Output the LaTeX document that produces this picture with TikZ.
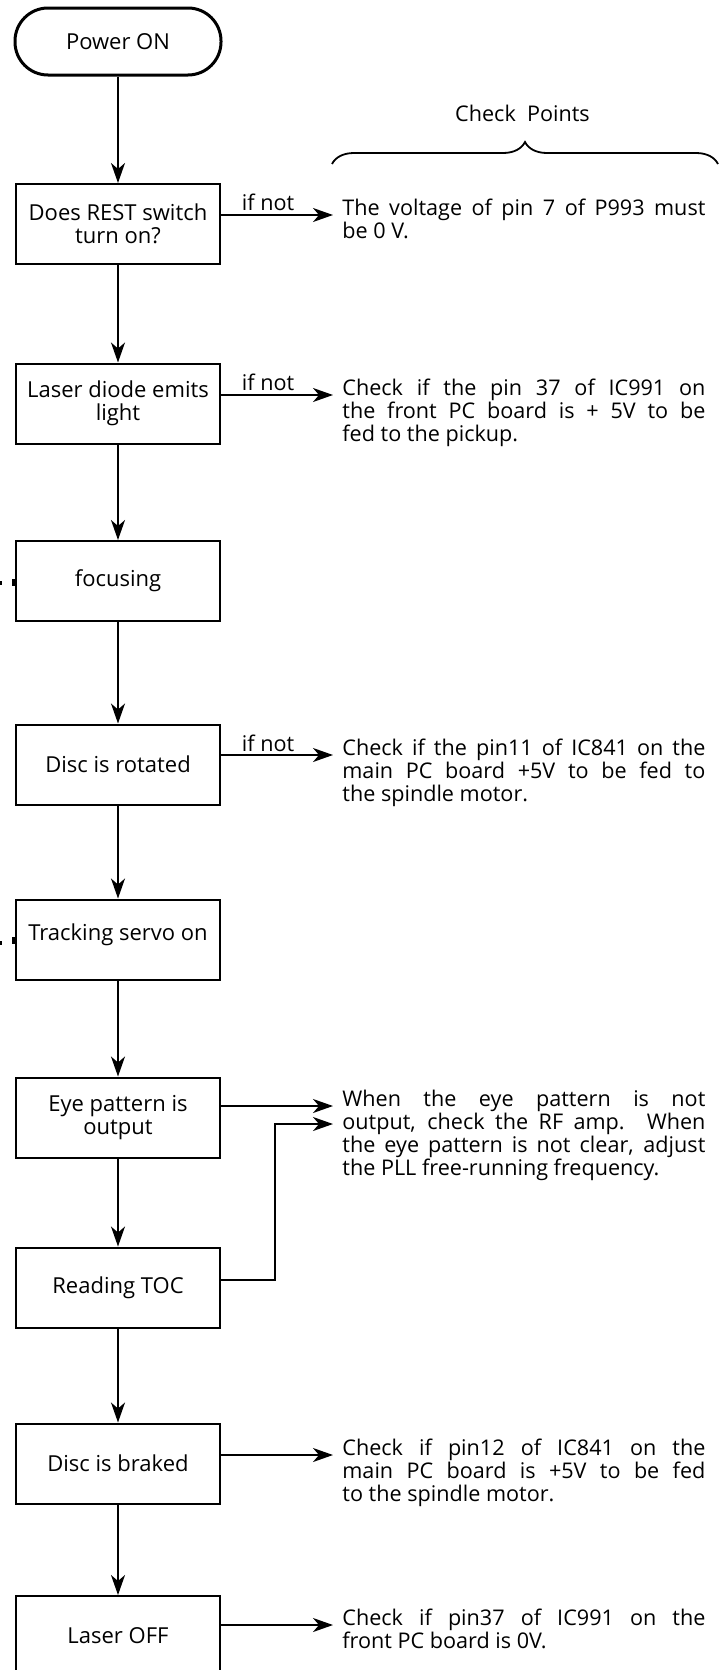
\documentclass[tikz,border=0pt]{standalone}
\usepackage{fontspec}
\setmainfont{Open Sans}
\usetikzlibrary{arrows.meta,decorations.pathreplacing,positioning}

\begin{document}
\begin{tikzpicture}[x=.5pt,y=-.5pt,font=\fontsize{10.8}{11.65}\selectfont,
  term/.style={draw,line width=1.5pt,rounded corners=16.5pt,minimum width=103pt,minimum height=33.5pt,font=\fontsize{11}{12}\selectfont},
  box/.style={draw,line width=1pt,minimum width=102pt,minimum height=40pt,align=center,inner sep=2pt,font=\fontsize{11}{11.5}\selectfont},
  note/.style={anchor=base west,text width=181.5pt,align=justify,inner xsep=4.5pt,inner ysep=0pt},
  arr/.style={line width=.8pt,-{Stealth[length=10pt,width=7pt,inset=3pt]}},
  ifnot/.style={above,pos=.42,inner sep=1.5pt}]
\useasboundingbox (0,0) rectangle (725,1670);
% flow
\node[term] (pwr) at (118,41.5) {Power ON};
\node[box] (rest) at (118,224) {Does REST switch\\turn on?};
\node[box] (laser) at (118,403.5) {Laser diode emits\\light};
\node[box] (focus) at (118,581) {focusing};
\node[box] (rot) at (118,764.5) {Disc is rotated};
\node[box] (track) at (118,939.5) {Tracking servo on\\[-4pt]};
\node[box] (eye) at (118,1117.5) {Eye pattern is\\output};
\node[box] (toc) at (118,1287.5) {Reading TOC};
\node[box] (brake) at (118,1463.5) {Disc is braked};
\node[box] (off) at (118,1636) {Laser OFF};
\draw[arr] (pwr) -- (rest);
\draw[arr] (rest) -- (laser);
\draw[arr] (laser) -- (focus);
\draw[arr] (focus) -- (rot);
\draw[arr] (rot) -- (track);
\draw[arr] (track) -- (eye);
\draw[arr] (eye) -- (toc);
\draw[arr] (toc) -- (brake);
\draw[arr] (brake) -- (off);
% check points
\node[anchor=base] (cp) at (522.5,121) {Check~~Points};
\draw[decorate,decoration={brace,amplitude=11pt},line width=.9pt] (332,164) -- (718,164);
\node[note] (n1) at (333,215) {The voltage of pin 7 of P993 must\linebreak be 0 V.};
\node[note] (n2) at (333,395) {Check if the pin 37 of IC991 on\linebreak the front PC board is + 5V to be\linebreak fed to the pickup.};
\node[note] (n4) at (333,755) {Check if the pin11 of IC841 on the\linebreak main PC board +5V to be fed to\linebreak the spindle motor.};
\node[note] (n6) at (333,1106) {When the eye pattern is not\linebreak output, check the RF amp. When\linebreak the eye pattern is not clear, adjust\linebreak the PLL free-running frequency.};
\node[note] (n8) at (333,1455) {Check if pin12 of IC841 on the\linebreak main PC board is +5V to be fed\linebreak to the spindle motor.};
\node[note] (n9) at (333,1625) {Check if pin37 of IC991 on the\linebreak front PC board is 0V.};
\draw[arr] (rest.east |- n1.base west) -- node[ifnot]{if not} (n1.base west);
\draw[arr] (laser.east |- n2.base west) -- node[ifnot]{if not} (n2.base west);
\draw[arr] (rot.east |- n4.base west) -- node[ifnot]{if not} (n4.base west);
\draw[arr] (eye.east |- n6.base west) -- (n6.base west);
\coordinate (bend) at (275,1124);
\draw[arr] ([yshift=3.75pt]toc.east) -| (bend) -- (bend -| n6.base west);
\draw[arr] (brake.east |- n8.base west) -- (n8.base west);
\draw[arr] (off.east |- n9.base west) -- (n9.base west);
% marks at the left edge
\fill (0,581) rectangle (2,585);
\fill (12,579) rectangle (16,586);
\fill (0,941) rectangle (2,945);
\fill (12,937) rectangle (16,944);
\end{tikzpicture}
\end{document}
